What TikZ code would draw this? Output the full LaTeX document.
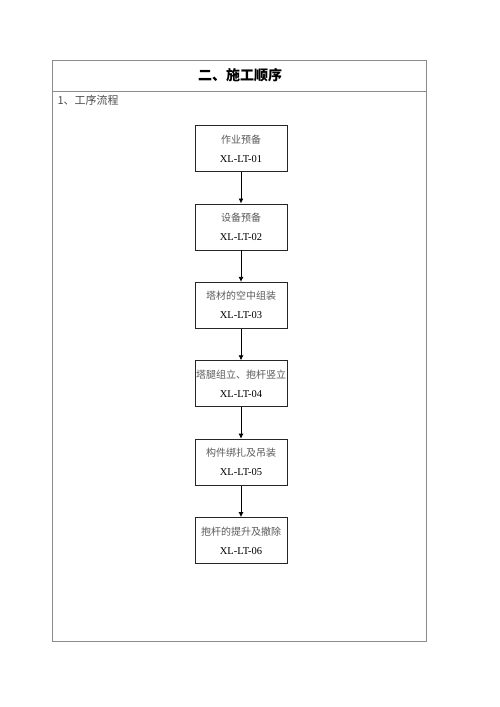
\documentclass[tikz,border=0pt]{standalone}
\usepackage{fontspec}
\setmainfont{Liberation Serif}
\newfontfamily\cjk{Noto Sans CJK SC}
\usetikzlibrary{arrows.meta,positioning}

\begin{document}
\begin{tikzpicture}[x=1pt,y=-1pt,
    stepbox/.style={draw=black!85,line width=0.8pt,minimum width=92pt,minimum height=46pt,
      inner sep=0pt,align=center,font=\fontsize{10.5}{19}\selectfont},
    flow/.style={-{Latex[length=5pt,width=5pt]},line width=0.8pt},
    node distance=31.6pt]
    \useasboundingbox (0,0) rectangle (500,707);

    % table frame
    \draw[black!45,line width=0.8pt] (52,60) rectangle (426,641);
    \draw[black!45,line width=0.8pt] (52,91) -- (426,91);

    % headings
    \node[font=\cjk\bfseries\fontsize{14}{16}\selectfont] (title) at (240,75) {二、施工顺序};
    \node[anchor=west,text=black!70,font=\cjk\fontsize{11}{13}\selectfont] (subtitle) at (54,100) {1、工序流程};

    % process steps
    \node[stepbox] (s1) at (241,148.5) {{\cjk\fontsize{10}{19}\selectfont\color{black!65}作业预备}\\XL-LT-01};
    \node[stepbox,below=of s1] (s2) {{\cjk\fontsize{10}{19}\selectfont\color{black!65}设备预备}\\XL-LT-02};
    \node[stepbox,below=of s2] (s3) {{\cjk\fontsize{10}{19}\selectfont\color{black!65}塔材的空中组装}\\XL-LT-03};
    \node[stepbox,below=of s3] (s4) {{\cjk\fontsize{10}{19}\selectfont\color{black!65}塔腿组立、抱杆竖立}\\XL-LT-04};
    \node[stepbox,below=of s4] (s5) {{\cjk\fontsize{10}{19}\selectfont\color{black!65}构件绑扎及吊装}\\XL-LT-05};
    \node[stepbox,below=of s5] (s6) {{\cjk\fontsize{10}{19}\selectfont\color{black!65}抱杆的提升及撤除}\\XL-LT-06};

    % arrows
    \foreach \a/\b in {s1/s2,s2/s3,s3/s4,s4/s5,s5/s6} \draw[flow] (\a) -- (\b);
\end{tikzpicture}
\end{document}
